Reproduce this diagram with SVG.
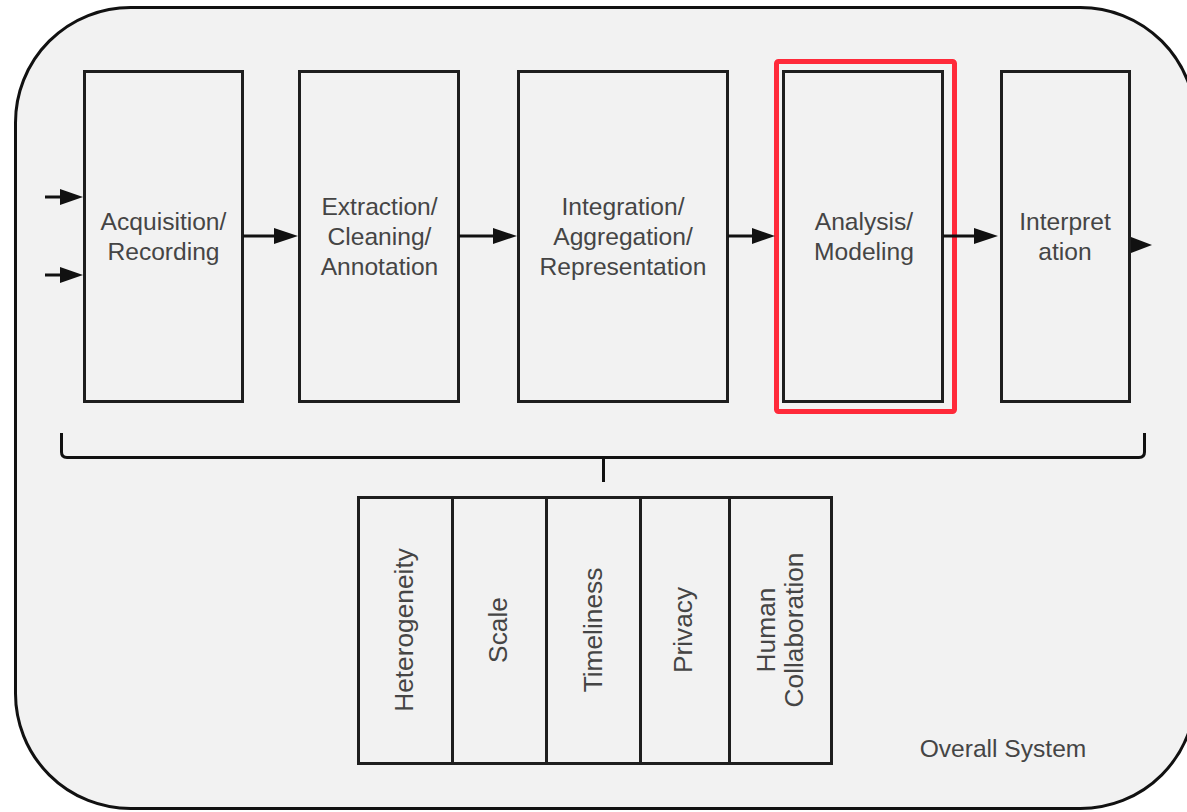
<svg xmlns="http://www.w3.org/2000/svg" width="1187" height="812" viewBox="0 0 1187 812">
  <defs>
    <style>
      .box { fill: none; stroke: #1e1e1e; stroke-width: 3; }
      .lbl { font-family: "Liberation Sans", Arial, sans-serif; font-size: 24.6px; fill: #454545; text-anchor: middle; }
      .vlbl { font-family: "Liberation Sans", Arial, sans-serif; font-size: 26.3px; fill: #454545; text-anchor: middle; }
      .conn { stroke: #111; stroke-width: 3; fill: none; }
      .head { fill: #111; }
    </style>
  </defs>
  <rect x="0" y="0" width="1187" height="812" fill="#ffffff"/>
  <g id="overall-system">
    <rect x="15.5" y="7.5" width="1180" height="801" rx="115" ry="115" fill="#f2f2f2" stroke="#111" stroke-width="3"/>
    <text class="lbl" x="1003" y="757">Overall System</text>
  </g>

  <g id="acquisition">
    <rect class="box" x="84.5" y="71.5" width="158" height="330"/>
    <text class="lbl" x="163.5" y="230">Acquisition/</text>
    <text class="lbl" x="163.5" y="260">Recording</text>
  </g>
  <g id="extraction">
    <rect class="box" x="299.5" y="71.5" width="159" height="330"/>
    <text class="lbl" x="379.5" y="215">Extraction/</text>
    <text class="lbl" x="379.5" y="245">Cleaning/</text>
    <text class="lbl" x="379.5" y="275">Annotation</text>
  </g>
  <g id="integration">
    <rect class="box" x="518.5" y="71.5" width="209" height="330"/>
    <text class="lbl" x="623" y="215">Integration/</text>
    <text class="lbl" x="623" y="245">Aggregation/</text>
    <text class="lbl" x="623" y="275">Representation</text>
  </g>
  <g id="analysis">
    <rect class="box" x="783.5" y="71.5" width="159" height="330"/>
    <rect x="776.5" y="61.5" width="178" height="350" rx="2" fill="none" stroke="#ff2a3a" stroke-width="5"/>
    <text class="lbl" x="864" y="230">Analysis/</text>
    <text class="lbl" x="864" y="260">Modeling</text>
  </g>
  <g id="interpretation">
    <rect class="box" x="1001.5" y="71.5" width="128" height="330"/>
    <text class="lbl" x="1065" y="230">Interpret</text>
    <text class="lbl" x="1065" y="260">ation</text>
  </g>

  <g id="challenges">
    <rect class="box" x="358.5" y="497.5" width="473" height="266"/>
    <line class="box" x1="452.5" y1="497.5" x2="452.5" y2="763.5"/>
    <line class="box" x1="546.5" y1="497.5" x2="546.5" y2="763.5"/>
    <line class="box" x1="640.5" y1="497.5" x2="640.5" y2="763.5"/>
    <line class="box" x1="729.5" y1="497.5" x2="729.5" y2="763.5"/>
    <text class="vlbl" transform="translate(413,630) rotate(-90)">Heterogeneity</text>
    <text class="vlbl" transform="translate(507,630) rotate(-90)">Scale</text>
    <text class="vlbl" transform="translate(602,630) rotate(-90)">Timeliness</text>
    <text class="vlbl" transform="translate(692,630) rotate(-90)">Privacy</text>
    <text class="vlbl" transform="translate(775,630) rotate(-90)">Human</text>
    <text class="vlbl" transform="translate(803,630) rotate(-90)">Collaboration</text>
  </g>

  <g id="connectors">
    <line class="conn" x1="45" y1="197" x2="64" y2="197"/>
    <polygon class="head" points="60,189 83,197 60,205"/>
    <line class="conn" x1="45" y1="275" x2="64" y2="275"/>
    <polygon class="head" points="60,267 83,275 60,283"/>
    <line class="conn" x1="243" y1="236" x2="278" y2="236"/>
    <polygon class="head" points="274,228 298,236 274,244"/>
    <line class="conn" x1="459" y1="236" x2="497" y2="236"/>
    <polygon class="head" points="493,228 517,236 493,244"/>
    <line class="conn" x1="728" y1="236" x2="756" y2="236"/>
    <polygon class="head" points="752,228 775,236 752,244"/>
    <line class="conn" x1="943" y1="236" x2="978" y2="236"/>
    <polygon class="head" points="974,228 998,236 974,244"/>
    <polygon class="head" points="1131,237 1152,245 1131,253"/>
    <path class="conn" d="M61.5,433 V452 Q61.5,457.5 67,457.5 H1139 Q1144.5,457.5 1144.5,452 V433"/>
    <line class="conn" x1="603.5" y1="457" x2="603.5" y2="482"/>
  </g>
</svg>
